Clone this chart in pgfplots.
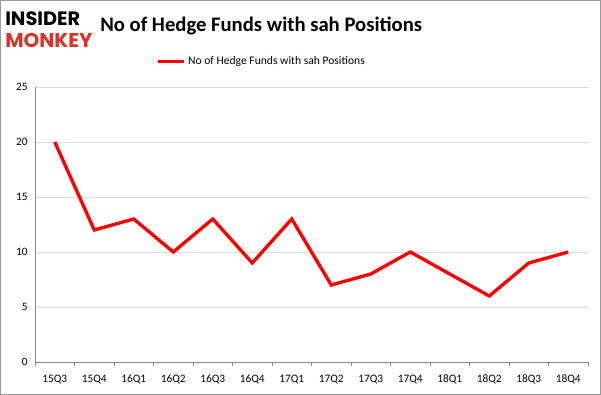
\documentclass[border=0pt]{standalone}
\usepackage{pgfplots}
\pgfplotsset{compat=1.18}
\usepackage{fontspec}
\setmainfont{Carlito}
\newfontfamily\logofont{Poppins}[UprightFont=* Bold]
\definecolor{imred}{HTML}{FF0000}
\definecolor{logored}{HTML}{D9342B}
\definecolor{gridgray}{HTML}{D9D9D9}
\definecolor{axgray}{HTML}{868686}
\begin{document}
\begin{tikzpicture}
\draw[gray!80,line width=0.75pt] (0.375pt,0.375pt) rectangle (450.375pt,295.875pt);
\node[anchor=west,inner sep=0,font=\logofont\fontsize{14.5}{15}\selectfont] at (3.75pt,282pt) {INSIDER};
\node[anchor=west,inner sep=0,font=\logofont\fontsize{15}{15}\selectfont,text=logored] at (3.75pt,266pt) {MONKEY};
\node[anchor=west,inner sep=0,font=\bfseries\fontsize{15.5}{17}\selectfont] at (75pt,276.5pt) {No of Hedge Funds with sah Positions};
\begin{axis}[
  at={(26.25pt,24.75pt)}, anchor=south west,
  scale only axis, width=414.75pt, height=206.25pt,
  xmin=-0.5, xmax=13.5, ymin=0, ymax=25,
  ytick={0,5,...,25},
  xtick={0,...,13},
  xticklabels={15Q3,15Q4,16Q1,16Q2,16Q3,16Q4,17Q1,17Q2,17Q3,17Q4,18Q1,18Q2,18Q3,18Q4},
  minor xtick={-0.5,0.5,...,13.5},
  major tick length=0pt,
  minor tick length=3pt,
  tick align=outside,
  xtick pos=bottom, ytick pos=left,
  axis x line*=bottom, axis y line*=left,
  axis line style={axgray,-},
  minor tick style={axgray},
  ymajorgrids, grid style={gridgray},
  tick label style={font=\fontsize{8.5}{9}\selectfont},
  /pgf/number format/assume math mode=true,
  xticklabel style={yshift=-6pt},
  yticklabel style={xshift=-2pt},
  legend style={at={(0.5,1)}, anchor=south, yshift=11pt, xshift=-37pt, draw=none, fill=none, font=\fontsize{8.7}{9}\selectfont, inner xsep=0pt},
  legend image code/.code={\draw[#1,line width=2.5pt] (0pt,0pt) -- (19pt,0pt);},
]
\addplot[imred, line width=2.5pt] coordinates {
(0,20) (1,12) (2,13) (3,10) (4,13) (5,9) (6,13) (7,7) (8,8) (9,10) (10,8) (11,6) (12,9) (13,10)
};
\addlegendentry{No of Hedge Funds with sah Positions}
\end{axis}
\end{tikzpicture}
\end{document}
